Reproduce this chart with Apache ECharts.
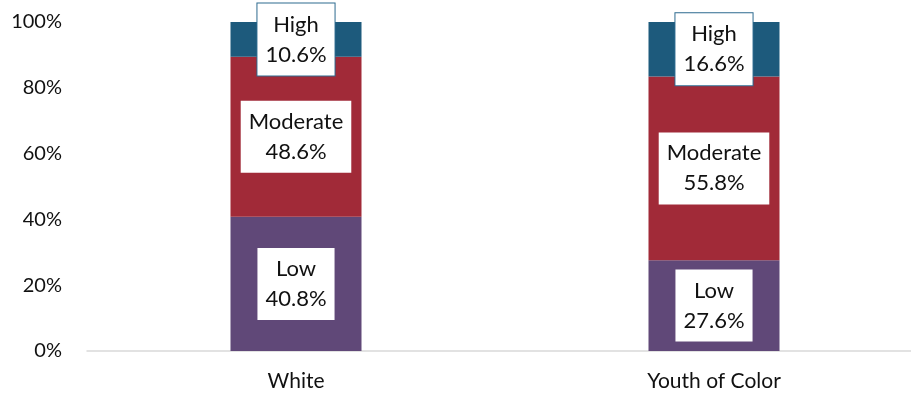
<!DOCTYPE html>
<html>
<head>
<meta charset="utf-8">
<script src="https://cdn.jsdelivr.net/npm/echarts@6/dist/echarts.min.js"></script>
<style>body{margin:0;background:#fff;}</style>
</head>
<body>
<div id="chart" style="width:911px;height:400px"></div>
<script type="text/javascript">
var categories = ['White', 'Youth of Color'];
var seriesNames = ['Low', 'Moderate', 'High'];
var lowValues = [40.8, 27.6];
var moderateValues = [48.6, 55.8];
var highValues = [10.6, 16.6];
var yTicks = [0, 20, 40, 60, 80, 100];

var colors = ['#604878', '#a12a38', '#1d5a7c'];
var fontFamily = 'Lato, "Open Sans", sans-serif';

function makeLabel(name, bordered) {
    return {
        show: true,
        position: 'inside',
        formatter: function (p) { return name + '\n' + p.value.toFixed(1) + '%'; },
        backgroundColor: '#fff',
        borderColor: bordered ? '#2d6a8f' : 'transparent',
        borderWidth: bordered ? 1 : 0,
        padding: [6, 8, 6, 8],
        color: '#111',
        fontSize: 22,
        lineHeight: 30,
        fontFamily: fontFamily
    };
}

var myChart = echarts.init(document.getElementById('chart'));
var option = {
    animation: false,
    grid: {
        left: 87,
        width: 836,
        top: 22,
        bottom: 49,
        outerBoundsMode: 'none'
    },
    xAxis: {
        type: 'category',
        data: categories,
        axisLine: { lineStyle: { color: '#d9d9d9', width: 1.5 } },
        axisTick: { show: false },
        axisLabel: { color: '#111', fontSize: 21, margin: 20, fontFamily: fontFamily }
    },
    yAxis: {
        type: 'value',
        min: yTicks[0],
        max: yTicks[yTicks.length - 1],
        interval: 20,
        axisLine: { show: false },
        axisTick: { show: false },
        splitLine: { show: false },
        axisLabel: { color: '#111', fontSize: 20, margin: 25, fontFamily: fontFamily, formatter: '{value}%' }
    },
    series: [
        {
            name: seriesNames[0],
            type: 'bar',
            stack: 'total',
            barWidth: 131,
            itemStyle: { color: colors[0] },
            label: makeLabel(seriesNames[0], false),
            data: lowValues
        },
        {
            name: seriesNames[1],
            type: 'bar',
            stack: 'total',
            barWidth: 131,
            itemStyle: { color: colors[1] },
            label: makeLabel(seriesNames[1], false),
            data: moderateValues
        },
        {
            name: seriesNames[2],
            type: 'bar',
            stack: 'total',
            barWidth: 131,
            itemStyle: { color: colors[2] },
            label: makeLabel(seriesNames[2], true),
            data: highValues
        }
    ]
};
myChart.setOption(option, true);
</script>
</body>
</html>
